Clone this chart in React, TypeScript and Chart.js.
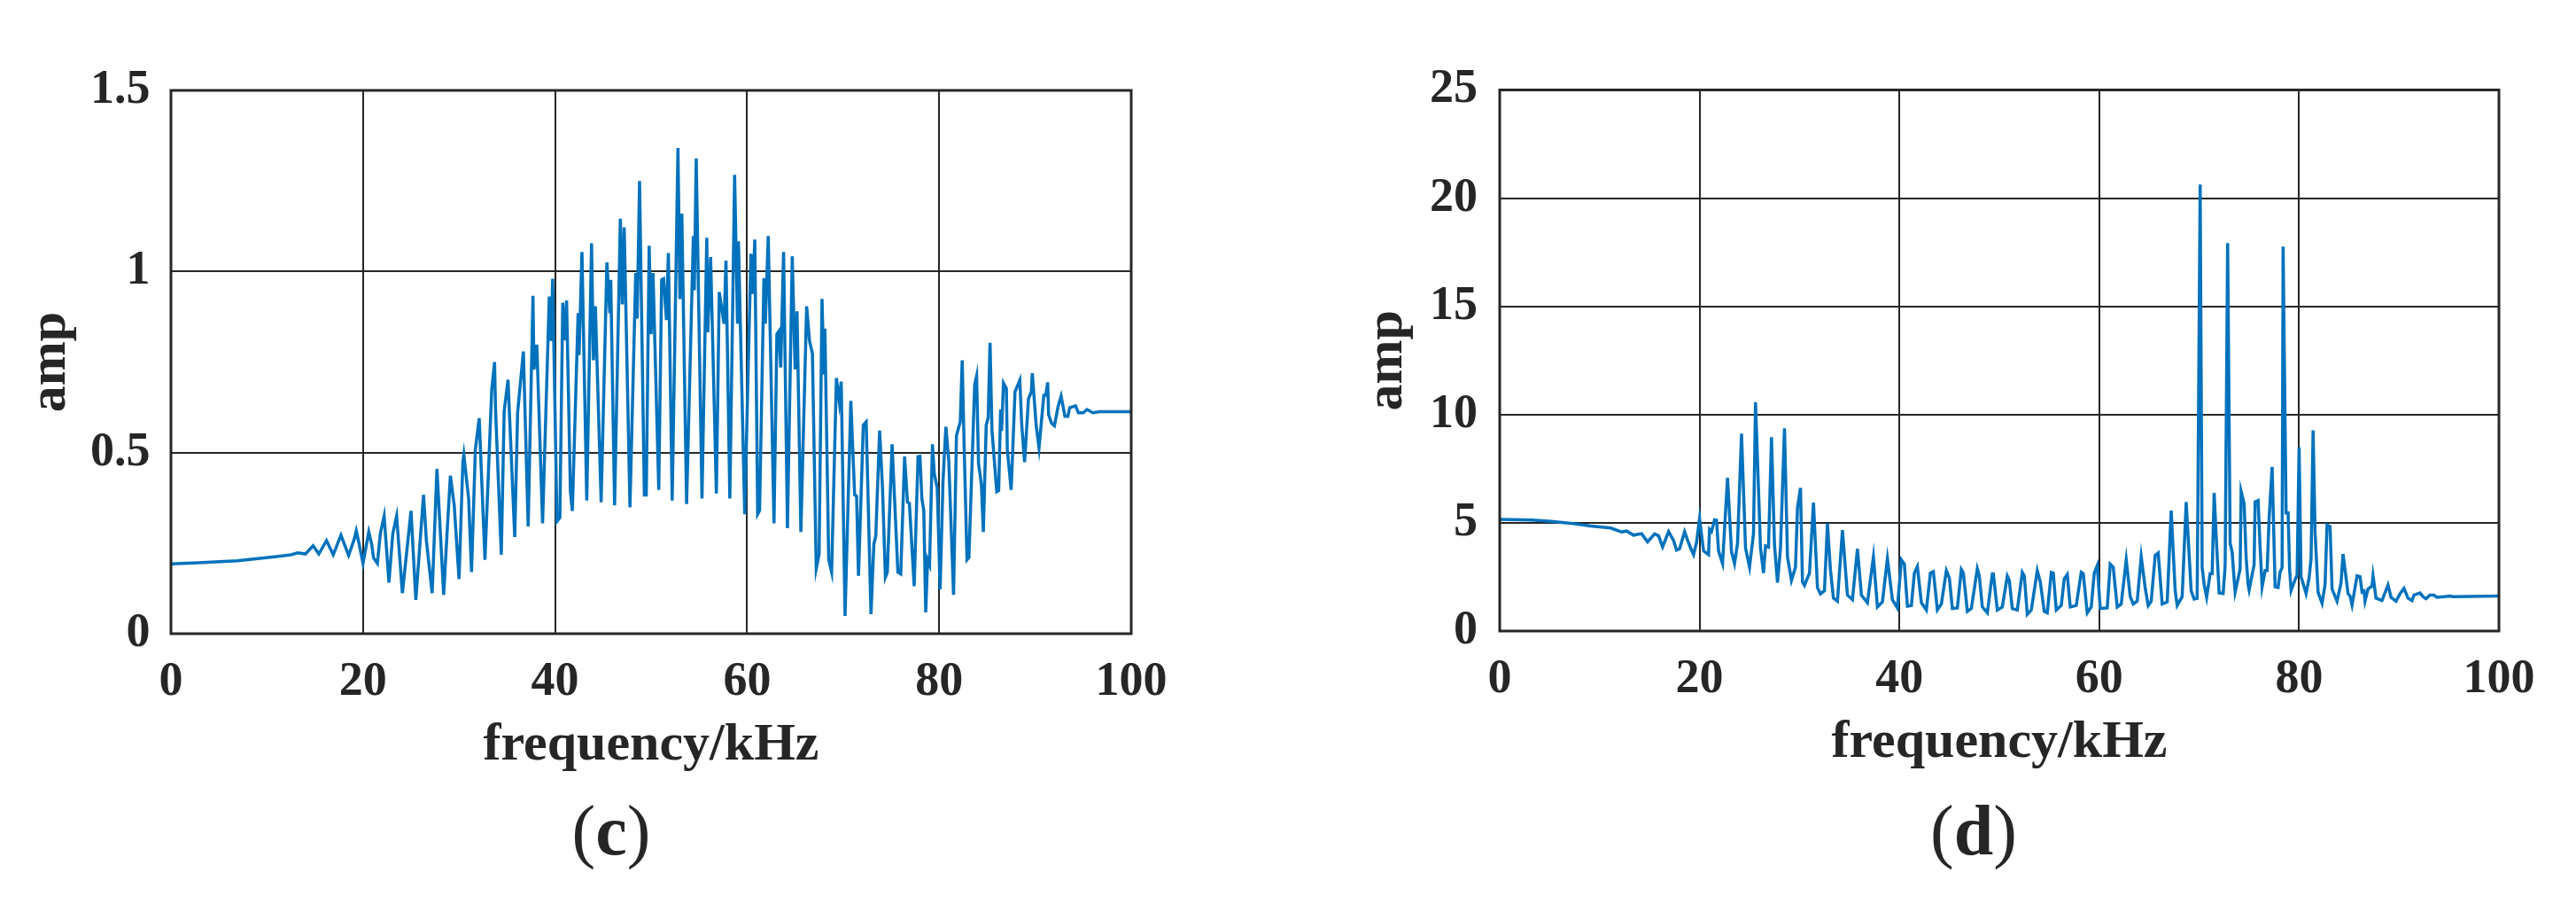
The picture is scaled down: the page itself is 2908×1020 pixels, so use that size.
import React, { useEffect, useRef } from "react";
import { Chart, registerables } from "chart.js";

Chart.register(...registerables);

// ---------- data: panel (c) ----------
const freqC = [
  0, 2.8, 6.9, 11.0, 12.5, 13.2, 14.0, 14.8, 15.4, 16.2, 16.9, 17.7, 18.5, 19.1, 19.3, 19.6,
  20.0, 20.6, 20.9, 21.1, 21.5, 21.8, 22.2, 22.7, 23.1, 23.5, 24.1, 25.0, 25.5, 26.3, 26.6,
  27.2, 27.7, 28.4, 28.8, 29.1, 29.5, 30.0, 30.4, 30.5, 31.0, 31.3, 31.7, 32.1, 32.7, 33.4,
  33.7, 33.8, 34.4, 34.7, 35.1, 35.8, 36.1, 36.7, 37.2, 37.7, 37.8, 38.1, 38.7, 39.4, 39.6,
  39.75, 40.2, 40.5, 40.8, 41.0, 41.2, 41.6, 41.8, 42.4, 42.5, 42.8, 43.3, 43.8, 44.0, 44.2,
  44.8, 45.4, 45.7, 45.8, 46.2, 46.8, 47.0, 47.2, 47.8, 48.4, 48.55, 48.8, 49.3, 49.5, 49.8,
  50.0, 50.2, 50.8, 51.1, 51.3, 51.6, 51.8, 52.2, 52.8, 53.0, 53.2, 53.7, 54.4, 54.5, 54.7,
  55.3, 55.8, 55.9, 56.2, 56.8, 57.1, 57.6, 57.8, 58.2, 58.7, 59.0, 59.1, 59.75, 60.4, 60.6,
  60.8, 61.1, 61.3, 61.75, 61.9, 62.2, 62.8, 63.1, 63.3, 63.5, 63.8, 64.2, 64.7, 65.0, 65.2,
  65.6, 66.2, 66.5, 66.8, 67.2, 67.5, 67.8, 68.0, 68.1, 68.5, 68.8, 69.3, 69.6, 69.8, 70.2,
  70.8, 71.2, 71.4, 71.6, 72.1, 72.4, 72.9, 73.2, 73.4, 73.8, 74.1, 74.4, 74.6, 75.1, 75.7,
  76.0, 76.4, 76.7, 76.9, 77.4, 77.8, 78.0, 78.2, 78.4, 78.6, 78.8, 79.0, 79.3, 79.5, 79.8,
  80.1, 80.4, 80.7, 81.0, 81.5, 81.8, 82.2, 82.4, 82.6, 82.9, 83.1, 83.7, 83.9, 84.1, 84.4,
  84.6, 84.9, 85.1, 85.3, 85.5, 86.0, 86.2, 86.4, 86.5, 86.7, 87.0, 87.1, 87.5, 87.9, 88.4,
  88.6, 88.9, 89.3, 89.6, 89.7, 90.1, 90.4, 90.9, 91.1, 91.3, 91.4, 91.7, 92.0, 92.4, 92.7,
  93.1, 93.4, 93.6, 94.2, 94.5, 95.0, 95.4, 96.0, 96.7, 100,
];
const ampC = [
  0.193, 0.196, 0.201, 0.213, 0.218, 0.223, 0.22, 0.243, 0.22, 0.257, 0.218, 0.272, 0.216, 0.262, 0.284, 0.247,
  0.194, 0.281, 0.247, 0.209, 0.194, 0.276, 0.325, 0.141, 0.276, 0.325, 0.112, 0.339, 0.093, 0.383, 0.257,
  0.112, 0.455, 0.107, 0.30, 0.436, 0.354, 0.151, 0.474, 0.494, 0.373, 0.17, 0.508, 0.595, 0.204, 0.672,
  0.75, 0.62, 0.218, 0.614, 0.701, 0.267, 0.61, 0.779, 0.296, 0.933, 0.73, 0.798, 0.305, 0.931, 0.808,
  0.98, 0.31, 0.32, 0.914, 0.81, 0.92, 0.392, 0.339, 0.885, 0.769, 1.054, 0.368, 1.078, 0.755, 0.904,
  0.363, 1.025, 0.885, 0.977, 0.354, 1.146, 0.909, 1.122, 0.349, 0.996, 0.87, 1.25, 0.383, 0.383, 1.071,
  0.827, 0.996, 0.397, 0.977, 0.98, 0.866, 1.051, 0.368, 1.341, 0.924, 1.16, 0.358, 1.098, 0.948, 1.312,
  0.373, 1.093, 0.832, 1.04, 0.387, 0.943, 0.856, 1.03, 0.373, 1.267, 0.856, 1.083, 0.33, 1.049, 0.938,
  1.088, 0.33, 0.34, 0.982, 0.856, 1.098, 0.305, 0.827, 0.835, 0.735, 1.054, 0.291, 1.042, 0.73, 0.89,
  0.281, 0.904, 0.808, 0.774, 0.18, 0.22, 0.924, 0.716, 0.842, 0.204, 0.17, 0.706, 0.64, 0.696, 0.049,
  0.643, 0.383, 0.38, 0.16, 0.576, 0.585, 0.054, 0.247, 0.27, 0.561, 0.402, 0.156, 0.17, 0.523, 0.17,
  0.165, 0.489, 0.363, 0.36, 0.131, 0.489, 0.49, 0.373, 0.34, 0.059, 0.204, 0.19, 0.523, 0.441, 0.402,
  0.122, 0.421, 0.571, 0.479, 0.107, 0.547, 0.585, 0.755, 0.52, 0.204, 0.21, 0.687, 0.711, 0.47, 0.412,
  0.281, 0.576, 0.595, 0.803, 0.561, 0.392, 0.395, 0.619, 0.56, 0.692, 0.677, 0.508, 0.397, 0.668, 0.7,
  0.576, 0.474, 0.648, 0.668, 0.719, 0.576, 0.513, 0.658, 0.658, 0.694, 0.605, 0.581, 0.574, 0.629, 0.656,
  0.6, 0.6, 0.624, 0.629, 0.61, 0.61, 0.619, 0.61, 0.613, 0.613,
];

// ---------- data: panel (d) ----------
const freqD = [
  0.0, 3.2, 5.1, 7.1, 9.1, 11.1, 12.2, 12.7, 13.4, 14.2, 14.8, 15.5, 15.9, 16.3, 16.9, 17.4,
  17.7, 18.0, 18.5, 18.8, 19.1, 19.4, 19.7, 20.0, 20.4, 20.9, 21.0, 21.2, 21.5, 21.7, 21.9,
  22.3, 22.8, 23.2, 23.5, 23.8, 24.2, 24.6, 25.0, 25.4, 25.6, 26.1, 26.4, 26.6, 26.9, 27.2,
  27.5, 27.8, 28.1, 28.5, 28.8, 29.2, 29.6, 29.8, 30.1, 30.3, 30.5, 31.0, 31.4, 31.8, 32.1,
  32.5, 32.8, 33.1, 33.4, 33.8, 34.3, 34.8, 35.3, 35.8, 36.2, 36.8, 37.4, 37.8, 38.3, 38.8,
  39.3, 39.8, 40.2, 40.5, 40.8, 41.2, 41.5, 41.8, 42.2, 42.7, 43.1, 43.4, 43.8, 44.2, 44.7,
  45.0, 45.3, 45.8, 46.2, 46.4, 46.8, 47.2, 47.8, 48.0, 48.3, 48.8, 49.3, 49.4, 49.8, 50.3,
  50.8, 51.0, 51.3, 51.8, 52.3, 52.5, 52.8, 53.2, 53.8, 54.1, 54.5, 54.8, 55.2, 55.4, 55.7,
  56.2, 56.5, 56.8, 57.1, 57.7, 58.2, 58.4, 58.8, 59.2, 59.5, 59.8, 60.1, 60.8, 61.1, 61.4,
  61.8, 62.2, 62.7, 63.1, 63.4, 63.8, 64.2, 64.6, 64.9, 65.2, 65.6, 65.9, 66.3, 66.8, 67.2,
  67.6, 67.8, 68.3, 68.7, 69.2, 69.5, 69.8, 70.1, 70.3, 70.5, 70.75, 71.1, 71.3, 71.5, 71.7,
  72.0, 72.4, 72.6, 72.85, 73.1, 73.3, 73.5, 73.6, 74.1, 74.2, 74.5, 74.7, 74.9, 75.0, 75.5,
  75.6, 75.9, 76.1, 76.3, 76.6, 76.8, 77.0, 77.3, 77.45, 77.6, 77.9, 78.1, 78.3, 78.4, 78.7,
  78.9, 79.05, 79.2, 79.6, 79.8, 80.0, 80.2, 80.7, 81.0, 81.2, 81.4, 81.6, 81.9, 82.3, 82.6,
  82.8, 83.1, 83.3, 83.8, 84.2, 84.4, 84.9, 85.1, 85.3, 85.8, 86.1, 86.3, 86.5, 86.6, 86.9,
  87.3, 87.4, 87.7, 88.3, 88.9, 89.2, 89.7, 90.1, 90.5, 90.9, 91.3, 91.5, 92.1, 92.4, 92.7,
  93.1, 93.5, 93.8, 94.5, 95.1, 95.4, 100,
];
const ampD = [
  5.16, 5.13, 5.07, 4.98, 4.85, 4.76, 4.58, 4.62, 4.43, 4.5, 4.12, 4.49, 4.4, 3.89, 4.59, 4.18,
  3.74, 3.8, 4.59, 4.2, 3.84, 3.53, 4.1, 5.2, 3.7, 3.53, 4.7, 4.6, 5.14, 5.12, 3.7,
  3.12, 7.08, 3.66, 3.12, 4.05, 9.12, 3.84, 2.95, 4.52, 10.57, 3.84, 2.68, 3.93, 3.88, 8.96,
  3.98, 2.24, 3.84, 9.37, 3.43, 2.34, 2.95, 5.68, 6.61, 2.27, 2.11, 2.68, 5.93, 2.0, 1.72,
  1.86, 4.97, 2.82, 1.52, 1.38, 4.66, 1.66, 1.45, 3.8, 1.66, 1.31, 3.43, 1.11, 1.34, 3.34,
  1.45, 1.07, 3.29, 3.09, 1.15, 1.18, 2.68, 2.98, 1.31, 0.97, 2.68, 2.75, 0.97, 1.25, 2.79,
  2.45, 1.04, 1.07, 2.84, 2.68, 0.91, 1.04, 2.88, 2.54, 1.11, 0.84, 2.64, 2.64, 0.97, 1.11,
  2.54, 2.34, 1.04, 0.97, 2.71, 2.54, 0.77, 0.97, 2.79, 2.27, 0.91, 0.84, 2.71, 2.68, 0.97,
  1.18, 2.41, 2.61, 1.11, 1.18, 2.71, 2.65, 0.84, 1.11, 2.68, 3.02, 1.04, 1.07, 3.09, 2.95,
  1.11, 1.25, 3.29, 1.59, 1.25, 1.38, 3.43, 1.99, 1.18, 1.38, 3.5, 3.61, 1.25, 1.34, 5.57,
  1.86, 1.18, 1.59, 5.96, 1.86, 1.48, 1.51, 20.63, 2.93, 2.15, 1.56, 2.65, 2.65, 6.38, 4.4,
  1.76, 1.73, 3.0, 17.93, 4.06, 3.65, 2.37, 1.8, 2.86, 6.45, 5.89, 3.4, 2.15, 1.9, 3.07,
  5.96, 6.03, 3.85, 2.04, 2.79, 2.79, 5.2, 7.58, 4.85, 2.04, 2.01, 2.72, 2.93, 17.76, 5.46,
  5.46, 2.86, 1.87, 2.37, 2.58, 8.49, 2.51, 1.73, 2.44, 3.35, 9.27, 4.55, 1.8, 1.28, 2.15,
  4.9, 4.83, 1.94, 1.38, 2.23, 3.56, 1.73, 1.62, 1.2, 2.55, 2.51, 1.8, 1.85, 1.38, 1.94,
  2.08, 2.55, 1.52, 1.41, 2.13, 1.56, 1.38, 1.72, 1.97, 1.52, 1.41, 1.66, 1.76, 1.59, 1.49,
  1.66, 1.66, 1.56, 1.59, 1.62, 1.59, 1.62,
];

// ---------- ticks & labels ----------
const xTicks = [0, 20, 40, 60, 80, 100];
const yTicksC = [0, 0.5, 1, 1.5];
const yTicksD = [0, 5, 10, 15, 20, 25];
const xTitle = "frequency/kHz";
const yTitle = "amp";

const FONT = "'Liberation Serif', 'Times New Roman', serif";
const INK = "#262626";
const LINE = "#0072BD";

const boxPlugin = {
  id: "boxOutline",
  afterDraw(chart: any) {
    const { ctx, chartArea: a } = chart;
    ctx.save();
    ctx.strokeStyle = INK;
    ctx.lineWidth = 3;
    ctx.strokeRect(a.left, a.top, a.right - a.left, a.bottom - a.top);
    ctx.restore();
  },
};

type Cfg = {
  left: number;
  padTop: number;
  padRight: number;
  padBottom: number;
  yAxisW: number;
  yTitlePad: number;
  yTickPad: number;
};

function Panel({ freq, amp, yTicks, cfg }: { freq: number[]; amp: number[]; yTicks: number[]; cfg: Cfg }) {
  const ref = useRef<HTMLCanvasElement>(null);
  useEffect(() => {
    const pts = freq.map((f, i) => ({ x: f, y: amp[i] }));
    const chart = new Chart(ref.current as HTMLCanvasElement, {
      type: "line",
      data: {
        datasets: [
          {
            data: pts,
            borderColor: LINE,
            borderWidth: 3.5,
            pointRadius: 0,
            tension: 0,
            fill: false,
          },
        ],
      },
      options: {
        animation: false,
        responsive: false,
        devicePixelRatio: 1,
        events: [],
        layout: {
          autoPadding: false,
          padding: { left: 10, top: cfg.padTop, right: cfg.padRight, bottom: cfg.padBottom },
        },
        plugins: { legend: { display: false }, tooltip: { enabled: false } },
        scales: {
          x: {
            type: "linear",
            min: xTicks[0],
            max: xTicks[xTicks.length - 1],
            afterFit: (s: any) => {
              s.height = 200;
            },
            afterBuildTicks: (s: any) => {
              s.ticks = xTicks.map((v) => ({ value: v }));
            },
            ticks: {
              callback: (v: any) => String(v),
              font: { family: FONT, size: 54, weight: "bold" },
              color: INK,
              padding: 22.5,
              maxRotation: 0,
              autoSkip: false,
            },
            grid: { color: INK, lineWidth: 2, drawTicks: false },
            border: { display: false },
            title: {
              display: true,
              text: xTitle,
              font: { family: FONT, size: 60, weight: "bold" },
              color: INK,
              padding: { top: 0, bottom: 37.6 },
            },
          },
          y: {
            type: "linear",
            min: yTicks[0],
            max: yTicks[yTicks.length - 1],
            afterFit: (s: any) => {
              s.width = cfg.yAxisW;
            },
            afterBuildTicks: (s: any) => {
              s.ticks = yTicks.map((v) => ({ value: v }));
            },
            ticks: {
              callback: (v: any) => String(v),
              font: { family: FONT, size: 54, weight: "bold" },
              color: INK,
              padding: cfg.yTickPad,
              autoSkip: false,
            },
            grid: { color: INK, lineWidth: 2, drawTicks: false },
            border: { display: false },
            title: {
              display: true,
              text: yTitle,
              font: { family: FONT, size: 60, weight: "bold" },
              color: INK,
              padding: { top: cfg.yTitlePad, bottom: 0 },
            },
          },
        },
      },
      plugins: [boxPlugin],
    } as any);
    return () => chart.destroy();
  }, []);
  return (
    <canvas
      ref={ref}
      width={1454}
      height={1020}
      style={{ position: "absolute", left: cfg.left, top: 0, width: 1454, height: 1020 }}
    />
  );
}

function SubLabel({ letter, center }: { letter: string; center: number }) {
  return (
    <div
      style={{
        position: "absolute",
        left: center,
        top: 897,
        transform: "translateX(-50%)",
        fontFamily: FONT,
        fontSize: 80,
        lineHeight: "80px",
        color: INK,
        whiteSpace: "nowrap",
      }}
    >
      (<span style={{ fontWeight: "bold" }}>{letter}</span>)
    </div>
  );
}

const cfgC: Cfg = { left: 0, padTop: 102, padRight: 177, padBottom: 105, yAxisW: 183, yTitlePad: 11.6, yTickPad: 23.4 };
const cfgD: Cfg = { left: 1454, padTop: 101.5, padRight: 87, padBottom: 108, yAxisW: 229, yTitlePad: 66, yTickPad: 25 };

export default function App() {
  return (
    <div
      style={{
        position: "absolute",
        left: 0,
        top: 0,
        width: 2908,
        height: 1020,
        background: "#ffffff",
        overflow: "hidden",
      }}
    >
      <Panel freq={freqC} amp={ampC} yTicks={yTicksC} cfg={cfgC} />
      <Panel freq={freqD} amp={ampD} yTicks={yTicksD} cfg={cfgD} />
      <SubLabel letter="c" center={690} />
      <SubLabel letter="d" center={2228} />
    </div>
  );
}
